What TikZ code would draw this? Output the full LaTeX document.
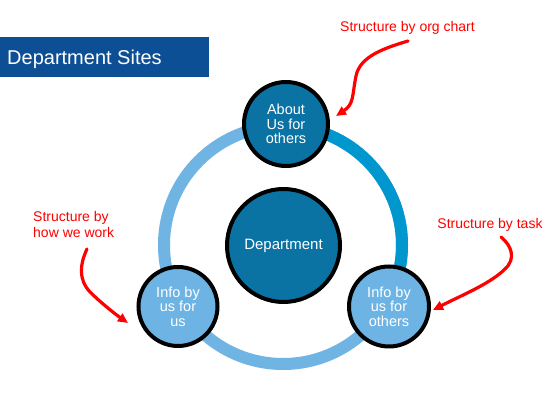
\documentclass[tikz,border=0pt]{standalone}
\usepackage{fontspec}
\setmainfont{Liberation Sans}
\usetikzlibrary{arrows.meta}
\definecolor{hdrblue}{HTML}{0D4F95}
\definecolor{darkfill}{HTML}{0A73A3}
\definecolor{lightfill}{HTML}{6DB4E4}
\definecolor{ringlight}{HTML}{70B4E4}
\definecolor{ringdark}{HTML}{0096CE}
\definecolor{annot}{HTML}{FF0000}
\tikzset{
  bubble/.style={circle,draw=black,line width=4pt,text=white,align=center,
    font=\fontsize{14.5}{14.5}\selectfont,inner sep=0pt},
  darkbubble/.style={bubble,fill=darkfill},
  lightbubble/.style={bubble,fill=lightfill},
  note/.style={text=annot,font=\fontsize{14}{16}\selectfont,inner sep=0pt},
  pointer/.style={draw=annot,line width=3.2pt,line cap=round,
    -{Triangle[length=10pt,width=9pt]}},
}
\begin{document}
\begin{tikzpicture}[x=1pt,y=1pt]
\useasboundingbox (0,0) rectangle (559,414);
\fill[white] (0,0) rectangle (559,414);
% header
\fill[hdrblue] (0,337) rectangle (209,377);
\node[anchor=west,text=white,font=\fontsize{20}{22}\selectfont,inner sep=0pt] (title) at (7,355) {Department Sites};
% ring
\coordinate (rc) at (283,169);
\draw[ringlight,line width=12pt] (rc) circle[radius=119];
\draw[ringdark,line width=12pt] (rc) ++(90:119) arc[start angle=90,end angle=-30,radius=119];
% nodes
\node[darkbubble,minimum size=113pt,font=\fontsize{15}{15}\selectfont] (dept) at (283.5,168.5) {Department};
\node[darkbubble,minimum size=84pt] (about) at (286,290) {About\\Us for\\others};
\node[lightbubble,minimum size=79pt] (infous) at (178,107.5) {Info by\\us for\\us};
\node[lightbubble,minimum size=80pt] (infoothers) at (389,107.5) {Info by\\us for\\others};
% annotations
\node[note] (org) at (407.5,386) {Structure by org chart};
\node[note,anchor=west,align=left] (how) at (33,189) {Structure by\\how we work};
\node[note] (task) at (490,189) {Structure by task};
\coordinate (o1) at (408,373);
\coordinate (o2) at (336,298);
\coordinate (h1) at (87,165);
\coordinate (h2) at (128,91);
\coordinate (t1) at (501,177);
\coordinate (t2) at (433,104);
\draw[pointer] (o1) .. controls (385,366) and (360,358) .. (356,338) .. controls (352,318) and (354,310) .. (o2);
\draw[pointer] (h1) .. controls (80,150) and (78,135) .. (90,122) .. controls (100,112) and (115,100) .. (h2);
\draw[pointer] (t1) .. controls (512,168) and (516,155) .. (505,145) .. controls (490,130) and (460,118) .. (t2);
\end{tikzpicture}
\end{document}
